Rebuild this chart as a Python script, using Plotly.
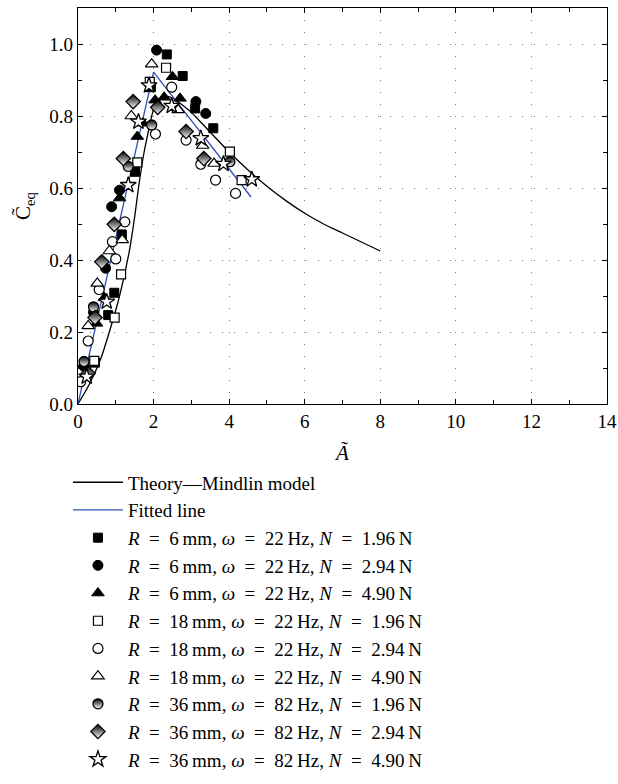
import plotly.graph_objects as go

# Theory (Mindlin model) curve
theory_x = [0, 0.3, 0.6, 0.9, 1.1, 1.35, 1.5, 1.6, 1.75, 1.9, 2.0, 2.1, 2.3, 2.5, 3.0, 3.5, 4.0, 4.5, 5.0, 5.5, 6.0, 6.5, 7.0, 7.5, 8.0]
theory_y = [0, 0.055, 0.125, 0.225, 0.30, 0.42, 0.52, 0.60, 0.70, 0.775, 0.82, 0.845, 0.855, 0.85, 0.81, 0.755, 0.70, 0.65, 0.605, 0.565, 0.53, 0.50, 0.475, 0.45, 0.425]

# Fitted line
fit_x = [0, 2.0, 4.58]
fit_y = [0, 0.922, 0.575]

# Experimental series
s1_x = [0.45, 0.8, 0.96, 1.16, 1.51, 1.93, 2.35, 2.77, 3.1, 3.58]
s1_y = [0.115, 0.247, 0.309, 0.471, 0.645, 0.88, 0.971, 0.911, 0.821, 0.766]

s2_x = [0.15, 0.41, 0.73, 0.89, 1.1, 2.08, 3.12, 3.38]
s2_y = [0.105, 0.255, 0.377, 0.548, 0.594, 0.983, 0.84, 0.807]

s3_x = [0.16, 0.49, 0.7, 1.1, 1.57, 1.72, 2.04, 2.28, 2.5, 2.7]
s3_y = [0.108, 0.224, 0.295, 0.572, 0.743, 0.78, 0.844, 0.852, 0.909, 0.849]

s4_x = [0.43, 0.97, 1.14, 1.57, 1.9, 2.33, 4.02, 4.33]
s4_y = [0.12, 0.24, 0.36, 0.671, 0.895, 0.934, 0.701, 0.622]

s5_x = [0.07, 0.27, 0.56, 0.91, 1.0, 1.24, 2.05, 2.48, 2.86, 3.25, 3.64, 4.17]
s5_y = [0.062, 0.175, 0.318, 0.451, 0.403, 0.506, 0.75, 0.88, 0.733, 0.666, 0.622, 0.585]

s6_x = [0.27, 0.51, 0.83, 1.17, 1.41, 1.95, 2.65, 3.3, 3.6]
s6_y = [0.217, 0.335, 0.425, 0.456, 0.80, 0.944, 0.817, 0.718, 0.668]

s7_x = [0.16, 0.41, 1.33, 1.95, 4.02]
s7_y = [0.118, 0.27, 0.66, 0.775, 0.673]

s8_x = [0.27, 0.45, 0.63, 0.96, 1.2, 1.46, 2.11, 2.86, 3.33]
s8_y = [0.085, 0.24, 0.395, 0.499, 0.682, 0.84, 0.824, 0.757, 0.682]

s9_x = [0.23, 0.76, 1.33, 1.6, 1.88, 2.48, 3.25, 3.85, 4.6]
s9_y = [0.076, 0.284, 0.608, 0.784, 0.885, 0.828, 0.738, 0.667, 0.624]

E = "\u2002=\u2002"
T = "\u2009"
labels = [
    f"<i>R</i>{E}6{T}mm, <i>ω</i>{E}22{T}Hz, <i>N</i>{E}1.96{T}N",
    f"<i>R</i>{E}6{T}mm, <i>ω</i>{E}22{T}Hz, <i>N</i>{E}2.94{T}N",
    f"<i>R</i>{E}6{T}mm, <i>ω</i>{E}22{T}Hz, <i>N</i>{E}4.90{T}N",
    f"<i>R</i>{E}18{T}mm, <i>ω</i>{E}22{T}Hz, <i>N</i>{E}1.96{T}N",
    f"<i>R</i>{E}18{T}mm, <i>ω</i>{E}22{T}Hz, <i>N</i>{E}2.94{T}N",
    f"<i>R</i>{E}18{T}mm, <i>ω</i>{E}22{T}Hz, <i>N</i>{E}4.90{T}N",
    f"<i>R</i>{E}36{T}mm, <i>ω</i>{E}82{T}Hz, <i>N</i>{E}1.96{T}N",
    f"<i>R</i>{E}36{T}mm, <i>ω</i>{E}82{T}Hz, <i>N</i>{E}2.94{T}N",
    f"<i>R</i>{E}36{T}mm, <i>ω</i>{E}82{T}Hz, <i>N</i>{E}4.90{T}N",
]

FONT = "Liberation Serif"
fig = go.Figure()

fig.add_trace(go.Scatter(x=theory_x, y=theory_y, mode="lines", name="Theory—Mindlin model",
                         line=dict(color="black", width=1.3, shape="spline", smoothing=0.6),
                         legendgroup="g0"))
fig.add_trace(go.Scatter(x=fit_x, y=fit_y, mode="lines", name="Fitted line",
                         line=dict(color="#2e50b4", width=1.3), legendgroup="g1"))

series = [
    (s1_x, s1_y, dict(symbol="square", size=9, color="black", line=dict(color="black", width=1))),
    (s2_x, s2_y, dict(symbol="circle", size=10, color="black", line=dict(color="black", width=1))),
    (s3_x, s3_y, dict(symbol="triangle-up", size=11, color="black", line=dict(color="black", width=1))),
    (s4_x, s4_y, dict(symbol="square", size=9, color="white", line=dict(color="black", width=1.2))),
    (s5_x, s5_y, dict(symbol="circle", size=10, color="white", line=dict(color="black", width=1.2))),
    (s6_x, s6_y, dict(symbol="triangle-up", size=11, color="white", line=dict(color="black", width=1.2))),
    (s7_x, s7_y, dict(symbol="circle", size=10, color="black", line=dict(color="black", width=1.3),
                      gradient=dict(type="vertical", color="white"))),
    (s8_x, s8_y, dict(symbol="diamond", size=11, color="black", line=dict(color="black", width=1.3),
                      gradient=dict(type="vertical", color="white"))),
    (s9_x, s9_y, dict(symbol="star", size=12, color="white", line=dict(color="black", width=1.3))),
]
for i, (xs, ys, mk) in enumerate(series):
    fig.add_trace(go.Scatter(x=xs, y=ys, mode="markers", name=labels[i], marker=mk,
                             legendgroup=f"s{i}"))

axis_common = dict(
    showline=True, linecolor="black", linewidth=1.3, mirror="ticks",
    ticks="inside", ticklen=5, tickcolor="black", tickwidth=1.2,
    showgrid=True, gridcolor="#777777", gridwidth=1.3, griddash="1px,11px",
    zeroline=False, tickfont=dict(family=FONT, size=19, color="black"),
)

fig.update_xaxes(range=[0, 14], dtick=2, tick0=0,
                 minor=dict(dtick=1, ticks="inside", ticklen=4, tickcolor="black", showgrid=False),
                 title=dict(text="<i>Ã</i>", font=dict(family=FONT, size=21, color="black"), standoff=14),
                 **axis_common)
fig.update_yaxes(range=[0, 1.1], dtick=0.2, tick0=0, tickformat=".1f",
                 minor=dict(dtick=0.1, ticks="inside", ticklen=4, tickcolor="black", showgrid=False),
                 title=dict(text="C\u0303<sub>eq</sub>", font=dict(family=FONT, size=21, color="black"), standoff=12),
                 **axis_common)

fig.update_layout(
    width=618, height=784,
    margin=dict(l=78, r=11, t=8, b=380, autoexpand=False),
    plot_bgcolor="white", paper_bgcolor="white",
    font=dict(family=FONT, size=19, color="black"),
    legend=dict(x=-0.019, xanchor="left", y=-0.15, yanchor="top",
                font=dict(family=FONT, size=19, color="black"),
                tracegroupgap=0, itemwidth=50, bgcolor="rgba(0,0,0,0)"),
)

fig.write_html("out.html")
